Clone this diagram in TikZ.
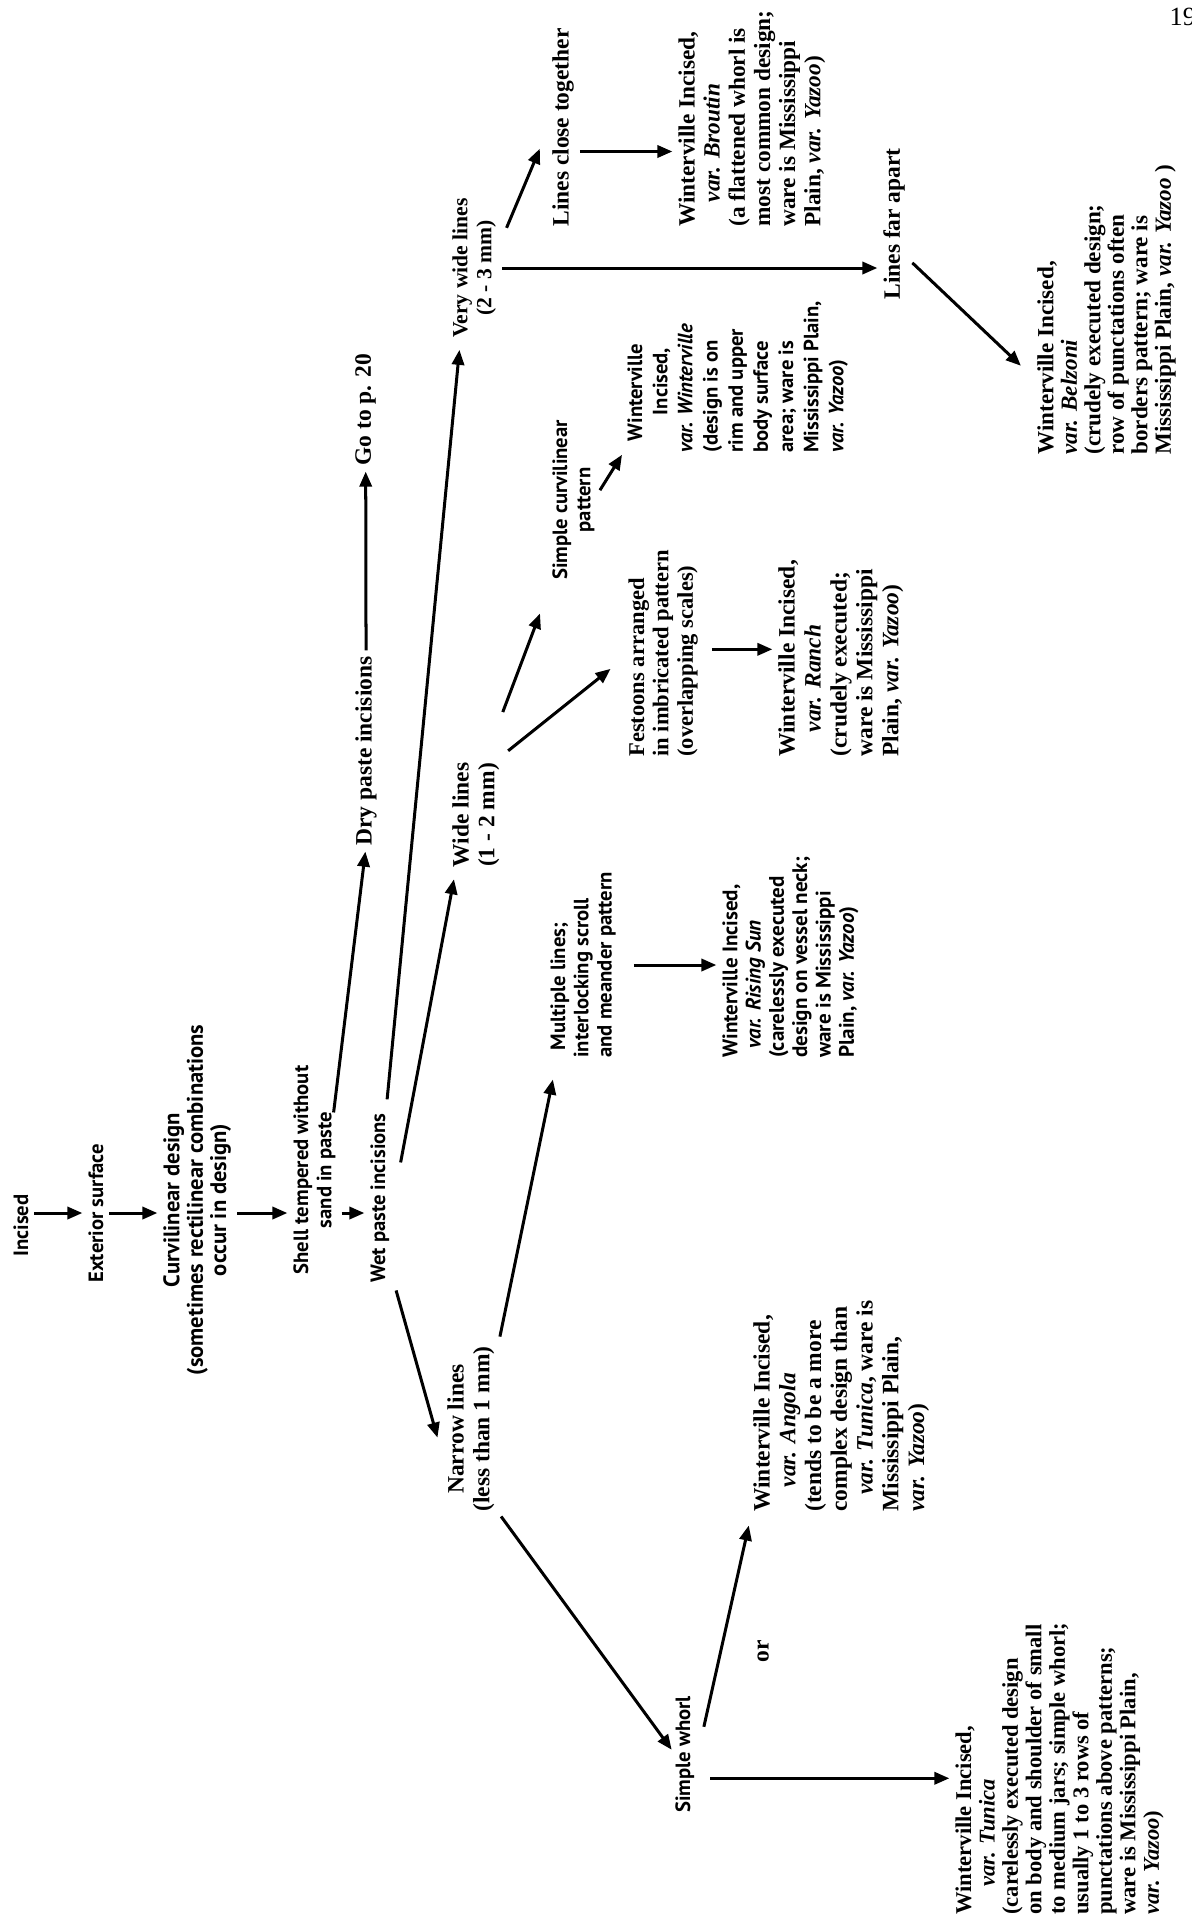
\documentclass[tikz,border=0pt]{standalone}
\usepackage{fontspec}
\setmainfont{Liberation Serif}
\newfontfamily\gillfont{PT Sans}
\usetikzlibrary{arrows.meta,calc}

\begin{document}
\begin{tikzpicture}[x=0.0187cm, y=-0.0187cm,
  serif block/.style={rotate=90, inner sep=0pt, align=left, font=\bfseries\fontsize{12.5}{13.7}\selectfont},
  sans block/.style={rotate=90, inner sep=0pt, align=left, font=\gillfont\bfseries\fontsize{11}{12.4}\selectfont},
  link/.style={line width=1.6pt, -{Triangle[length=8pt,width=6.5pt]}, shorten <=3pt, shorten >=3pt}]
\useasboundingbox (0,0) rectangle (1192,1922);

\node[anchor=west, font=\fontsize{14}{14}\selectfont] (page number) at (1163,17) {19};

\node[sans block, anchor=north west] (incised) at (13,1257) {Incised};
\node[sans block, anchor=north west] (exterior surface) at (88,1283) {Exterior surface};
\node[sans block, align=center, anchor=north, font=\gillfont\bfseries\fontsize{12}{12.4}\selectfont] (curvilinear design) at (163,1200) {Curvilinear design\\(sometimes rectilinear combinations\\occur in design)};
\node[sans block, align=center, anchor=north] (shell tempered) at (293,1170) {Shell tempered without\\sand in paste};
\node[sans block, anchor=north west] (wet paste) at (370,1283) {Wet paste incisions};

\node[serif block, anchor=north west] (dry paste) at (355,846) {Dry paste incisions};
\node[serif block, anchor=north west] (go to) at (355,466) {Go to p. 20};

\node[serif block, align=center, anchor=north, font=\bfseries\fontsize{11.5}{12.8}\selectfont] (very wide lines) at (452,268) {Very wide lines\\(2 - 3 mm)};
\node[serif block, align=center, anchor=north] (wide lines) at (452,815) {Wide lines\\(1 - 2 mm)};
\node[serif block, align=center, anchor=north] (narrow lines) at (447,1429) {Narrow lines\\(less than 1 mm)};

\node[serif block, anchor=north west] (lines close) at (552,227) {Lines close together};
\node[serif block, anchor=north west, font=\bfseries\fontsize{12.4}{13.4}\selectfont] (broutin) at (678,227) {Winterville Incised,\\\hspace*{13pt}\textit{var. Broutin}\\(a flattened whorl is\\most common design;\\ware is Mississippi\\Plain, \textit{var. Yazoo})};
\node[serif block, anchor=north west] (lines far) at (883,300) {Lines far apart};
\node[serif block, anchor=north west, font=\bfseries\fontsize{12.3}{12.5}\selectfont] (belzoni) at (1037,455) {Winterville Incised,\\\textit{var. Belzoni}\\(crudely executed design;\\row of punctations often\\borders pattern; ware is\\Mississippi Plain, \textit{var. Yazoo} )};

\node[sans block, align=center, anchor=north] (simple curvilinear) at (552,500) {Simple curvilinear\\pattern};
\node[sans block, anchor=north west, font=\gillfont\bfseries\fontsize{11}{13.4}\selectfont] (winterville) at (627,453) {\hspace*{6pt}Winterville\\\hspace*{20pt}Incised,\\\textit{var. Winterville}\\(design is on\\rim and upper\\body surface\\area; ware is\\Mississippi Plain,\\\textit{var. Yazoo})};

\node[serif block, anchor=north west, font=\bfseries\fontsize{12}{13}\selectfont] (festoons) at (628,757) {Festoons arranged\\in imbricated pattern\\(overlapping scales)};
\node[serif block, anchor=north west, font=\bfseries\fontsize{12.5}{13.8}\selectfont] (ranch) at (778,757) {Winterville Incised,\\\hspace*{13pt}\textit{var. Ranch}\\(crudely executed;\\ware is Mississippi\\Plain, \textit{var. Yazoo})};

\node[sans block, anchor=north west] (multiple lines) at (550,1058) {\hspace*{4pt}Multiple lines;\\interlocking scroll\\and meander pattern};
\node[sans block, anchor=north west, font=\gillfont\bfseries\fontsize{11.2}{12.4}\selectfont] (rising sun) at (722,1058) {Winterville Incised,\\\hspace*{5pt}\textit{var. Rising Sun}\\(carelessly executed\\design on vessel neck;\\ware is Mississippi\\Plain, \textit{var. Yazoo})};

\node[sans block, anchor=north west] (simple whorl) at (675,1813) {Simple whorl};
\node[serif block, anchor=north west] (or word) at (757,1663) {or};
\node[serif block, anchor=north west] (angola) at (753,1512) {Winterville Incised,\\\hspace*{13pt}\textit{var. Angola}\\(tends to be a more\\complex design than\\\hspace*{9pt}\textit{var. Tunica}, ware is\\Mississippi Plain,\\\textit{var. Yazoo})};
\node[serif block, anchor=north west, font=\bfseries\fontsize{12}{12.5}\selectfont] (tunica) at (955,1915) {Winterville Incised,\\\hspace*{15pt}\textit{var. Tunica}\\(carelessly executed design\\on body and shoulder of small\\to medium jars; simple whorl;\\usually 1 to 3 rows of\\punctations above patterns;\\ware is Mississippi Plain,\\\textit{var. Yazoo})};

% main stem
\coordinate (spine) at (0,1213);
\draw[link] (incised.south |- spine) -- (exterior surface.north |- spine);
\draw[link] (exterior surface.south |- spine) -- (curvilinear design.north |- spine);
\draw[link] (curvilinear design.south |- spine) -- (shell tempered.north |- spine);
\draw[link] (shell tempered.south |- spine) -- (wet paste.north |- spine);

\draw[link] ($(shell tempered.south)+(-3,-52)$) -- (dry paste.west);
\draw[link] (dry paste.east) -- (go to.west);

\draw[link] ($(wet paste.south east)+(-3,-8)$) -- ($(very wide lines.north west)+(8,6)$);
\draw[link] ($(wet paste.south)+(10,-30)$) -- ($(wide lines.north west)+(3,6)$);
\draw[link] ($(wet paste.south west)+(5,2)$) -- ($(narrow lines.north)+(-8,14)$);

% very wide lines
\draw[link] ($(very wide lines.south)+(8,-35)$) -- ($(lines close.north)+(-10,16)$);
\coordinate (close out) at ($(lines close.south)+(0,24)$);
\draw[link] (close out) -- (close out -| broutin.north);
\draw[link] (very wide lines.south) -- (very wide lines.south -| lines far.north);
\draw[link] ($(lines far.south)+(3,35)$) -- ($(belzoni.north)+(-12,60)$);

% wide lines
\draw[link] ($(wide lines.south east)+(1,-45)$) -- ($(simple curvilinear.north west)+(-10,28)$);
\draw[link] ($(simple curvilinear.south)+(2,-5)$) -- ($(winterville.north west)+(-2,-3)$);
\draw[link] ($(wide lines.south east)+(4,-8)$) -- ($(festoons.north)+(-13,12)$);
\coordinate (festoons out) at ($(festoons.south)+(8,-4)$);
\draw[link] (festoons out) -- (festoons out -| ranch.north);

% narrow lines
\draw[link] ($(narrow lines.south east)+(4,-4)$) -- ($(multiple lines.north west)+(4,16)$);
\coordinate (multiple out) at ($(multiple lines.south)+(12,0)$);
\draw[link] (multiple out) -- (multiple out -| rising sun.north);
\draw[link] ($(narrow lines.south west)+(3,0)$) -- (simple whorl.north);
\draw[link] ($(simple whorl.south)+(8,-22)$) -- ($(angola.north west)+(-3,8)$);
\coordinate (whorl out) at ($(simple whorl.south)+(10,24)$);
\draw[link] (whorl out) -- (whorl out -| tunica.north);
\end{tikzpicture}
\end{document}
